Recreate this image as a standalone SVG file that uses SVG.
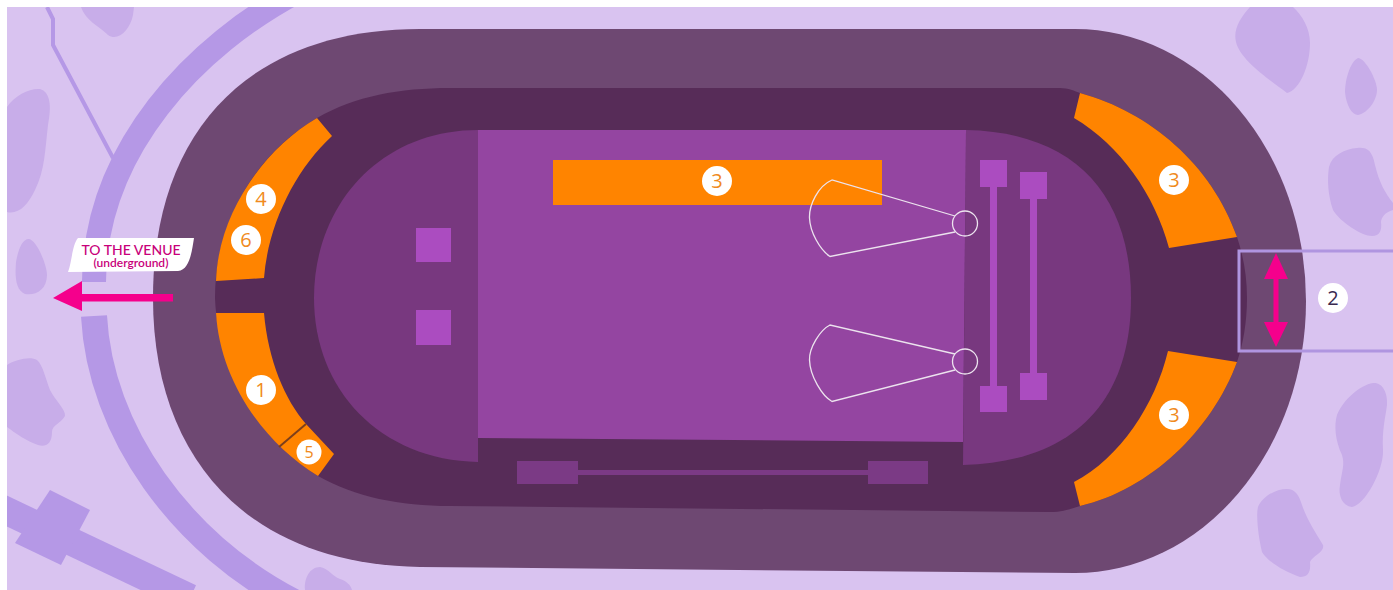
<svg xmlns="http://www.w3.org/2000/svg" width="1393" height="590" viewBox="0 0 1393 590">
<style>
.blob{fill:#c8ade9}
.deco{fill:none;stroke:#b598e6}
.org{fill:#ff8400}
.sq{fill:#ab4cc0}
.bar{fill:#7b3a85}
.fan{fill:none;stroke:#ece3ee;stroke-width:1.3}
.pink{fill:#f5008c}
.disc{fill:#fff}
.num{font-family:"Open Sans","Liberation Sans",sans-serif;font-size:20px;font-weight:500;fill:#f08a20;text-anchor:middle}
.lbl{font-family:"Lato","Liberation Sans",sans-serif;fill:#c8007a;text-anchor:middle}
</style>
<rect x="7" y="7" width="1386" height="583" fill="#d9c3f0"/>
<g id="surroundings">
<path class="blob" d="M81 7C85 20 100 27 108 35C118 42 130 30 133 15L134 7Z"/>
<path class="blob" d="M7 107C15 95 30 88 40 89C50 92 52 105 48 125C45 150 45 170 35 190C28 205 18 215 7 212Z"/>
<path class="blob" d="M28 239C36 238 47 265 47 275C47 290 35 296 25 294C15 290 15 275 16 262C18 250 22 240 28 239Z"/>
<path class="blob" d="M7 365C15 360 30 356 37 360C43 365 46 380 50 390C55 400 66 410 65 416C60 424 52 425 52 432C52 445 45 447 38 445C28 442 15 433 7 427Z"/>
<path class="blob" d="M305 590C304 578 310 567 320 567C328 568 332 576 340 579C346 581 351 585 352 590Z"/>
<path class="blob" d="M1250 7C1240 18 1233 30 1236 42C1240 60 1270 80 1287 93C1300 90 1310 65 1310 43C1310 28 1302 15 1293 7Z"/>
<path class="blob" d="M1358 58C1350 62 1345 80 1345 92C1346 105 1352 115 1358 115C1368 113 1377 100 1377 90C1377 80 1365 58 1358 58Z"/>
<path class="blob" d="M1357 148C1367 147 1372 150 1375 165C1379 182 1385 193 1393 203L1393 210C1385 212 1381 218 1381 222C1382 230 1380 236 1372 236C1362 236 1340 222 1333 210C1328 195 1327 180 1329 167C1332 155 1345 149 1357 148Z"/>
<path class="blob" d="M1373 383C1382 382 1388 392 1387 405C1385 420 1382 430 1383 450C1384 470 1365 505 1352 507C1342 506 1338 495 1340 485C1342 470 1345 465 1342 455C1335 440 1334 425 1337 415C1343 400 1360 385 1373 383Z"/>
<path class="blob" d="M1287 489C1295 489 1299 495 1302 505C1307 520 1316 533 1323 545C1325 552 1312 556 1310 562C1311 572 1308 577 1300 577C1285 572 1268 562 1262 552C1258 535 1256 515 1258 507C1262 497 1275 489 1287 489Z"/>
<path class="deco" stroke-width="24" d="M300 -10C195 45 95 150 94 282"/>
<path class="deco" stroke-width="26" d="M94 316C100 430 180 545 300 605"/>
<path class="deco" stroke-width="4" d="M47 7L53 19V45L113 158"/>
<path class="deco" stroke-width="28" d="M-8 504L190 598"/>
<polygon points="50,490 90,510 61,565 15,543" fill="#b598e6"/>
<path fill="#fff" d="M0 0H1393V7H7V590H0Z"/>
</g>
<g id="track">
<path fill="#6e4872" d="M153 298C153 130 250 29 420 29H1075A231 272 0 0 1 1075 573L420 567C250 565 153 460 153 298Z"/>
<path fill="#572c58" d="M215 298C215 215 262 150 317 118C355 96 400 88 450 88H1060C1068 88 1075 91 1080 93C1150 112 1212 165 1237 237C1243 255 1247 275 1247 298C1247 322 1243 345 1237 362C1212 430 1150 490 1080 506C1072 508 1065 512 1050 512L450 506C400 506 355 497 318 476C260 440 218 375 215 298Z"/>
</g>
<g id="field">
<path fill="#78387f" d="M478 130C380 130 314 205 314 298C314 390 380 460 478 462V130Z"/>
<path fill="#78387f" d="M966 130C1075 132 1131 195 1131 298C1131 400 1075 462 963 465Z"/>
<path fill="#9445a1" d="M478 130H966L963 442L478 438Z"/>
</g>
<g id="stage-left">
<rect class="sq" x="416" y="228" width="35" height="34"/>
<rect class="sq" x="416" y="310" width="35" height="35"/>
</g>
<g id="barbell-bottom">
<rect class="bar" x="517" y="461" width="61" height="23"/>
<rect class="bar" x="868" y="461" width="60" height="23"/>
<rect class="bar" x="578" y="470" width="290" height="5"/>
</g>
<g id="barbell-right">
<rect class="sq" x="990" y="187" width="7" height="199"/>
<rect class="sq" x="1030" y="199" width="7" height="174"/>
<rect class="sq" x="980" y="160" width="27" height="27"/>
<rect class="sq" x="1020" y="172" width="27" height="27"/>
<rect class="sq" x="980" y="386" width="27" height="26"/>
<rect class="sq" x="1020" y="373" width="27" height="27"/>
</g>
<g id="area-3-center">
<rect class="org" x="553" y="160" width="329" height="45"/>
<circle class="disc" cx="717" cy="181" r="15"/>
<text class="num" x="717" y="188">3</text>
</g>
<g id="light-top">
<circle class="fan" cx="965" cy="223.500" r="12.500"/>
<path class="fan" d="M955 216L832 180C818 186 809 205 809.500 218C810 232 820 250 830 256.500L955 232"/>
</g>
<g id="light-bottom">
<circle class="fan" cx="965" cy="361.500" r="12.500"/>
<path class="fan" d="M955 354L830 325C820 330 809 348 809.500 360C810 376 822 396 832 401.500L955 370"/>
</g>
<g id="area-4-6">
<path class="org" d="M317 118L332 136C295 170 268 225 264 278L216 281C218 215 262 150 317 118Z"/>
<circle class="disc" cx="261" cy="199" r="15"/><text class="num" x="261" y="206">4</text>
<circle class="disc" cx="246" cy="240" r="15"/><text class="num" x="246" y="247">6</text>
</g>
<g id="area-1-5">
<path class="org" d="M216 313H264C268 360 285 400 306 424L334 454L318 476C260 440 220 378 216 313Z"/>
<path d="M279 447L306 424" stroke="#7c3f1c" stroke-width="2" fill="none"/>
<circle class="disc" cx="261" cy="390" r="15"/><text class="num" x="261" y="397">1</text>
<circle class="disc" cx="309" cy="452" r="12.500"/><text class="num" x="309" y="458" style="font-size:16px">5</text>
</g>
<g id="area-3-top">
<path class="org" d="M1080 93C1150 112 1212 165 1237 237L1169 248C1155 195 1120 145 1074 118Z"/>
<circle class="disc" cx="1174" cy="180" r="15"/><text class="num" x="1174" y="187">3</text>
</g>
<g id="area-3-bottom">
<path class="org" d="M1237 362C1212 430 1150 490 1080 506L1074 482C1120 458 1155 405 1168 351Z"/>
<circle class="disc" cx="1174" cy="415" r="15"/><text class="num" x="1174" y="422">3</text>
</g>
<g id="area-2">
<path d="M1393 251H1239V351H1393" fill="none" stroke="#b095e0" stroke-width="3"/>
<circle class="disc" cx="1333" cy="298" r="15"/><text class="num" x="1333" y="305" style="fill:#3a2a50">2</text>
</g>
<g id="connectors">
<path class="pink" d="M1276 253L1288 279H1278.500V322H1288L1276 347L1264 322H1273.500V279H1264Z"/>
<path class="pink" d="M53 298L82 281V294H173V301.500H82V311Z"/>
</g>
<g id="label-venue">
<path fill="#fff" d="M78 238H194C192 250 190 270 178 271L68 272C72 262 72 245 78 238Z"/>
<text class="lbl" x="131" y="254.500" font-size="14" font-weight="500">TO THE VENUE</text>
<text class="lbl" x="131" y="267" font-size="12" font-weight="600">(underground)</text>
</g>
</svg>
